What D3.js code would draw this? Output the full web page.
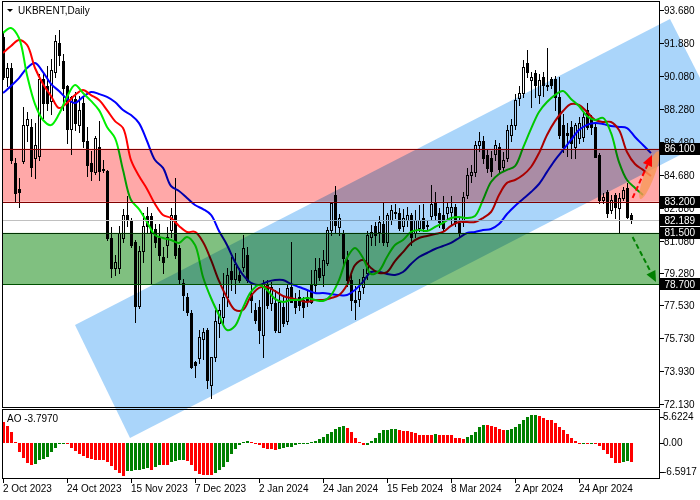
<!DOCTYPE html>
<html><head><meta charset="utf-8">
<script src="https://cdn.jsdelivr.net/npm/d3@7"></script>
<style>
html,body{margin:0;padding:0;background:#fff;}
svg{display:block;font-family:"Liberation Sans",Arial,sans-serif;}
.mul{mix-blend-mode:multiply;}
</style></head><body>
<svg id="chart" width="700" height="500"></svg>
<script>
// ---------------- DATA ----------------
const symbolTitle = "UKBRENT,Daily";
const aoTitle = "AO -3.7970";

const openP = [92.2,90.0,90.5,85.3,83.9,85.4,87.4,87.3,85.6,85.7,
89.9,89.5,88.7,90.3,91.9,90.9,89.5,87.2,88.8,87.4,
88.6,86.5,85.3,84.8,86.2,85.0,84.9,81.2,79.6,79.6,
81.2,82.5,82.2,81.0,77.5,80.5,82.4,82.4,81.7,81.2,
80.2,80.85,81.66,82.48,80.66,78.74,78.0,77.1,74.46,74.64,
75.7,76.2,73.2,74.7,76.6,76.9,78.0,79.4,79.0,79.2,
79.65,80.29,78.2,77.28,77.47,75.92,78.65,77.65,77.65,76.1,
77.47,76.7,78.56,77.83,78.0,77.83,78.0,78.65,78.65,79.56,
79.2,79.84,81.66,83.57,81.84,81.48,80.0,78.92,77.83,77.9,
78.56,79.3,81.29,81.85,81.57,82.0,81.0,82.2,82.6,82.57,
81.85,82.2,82.48,81.5,81.75,82.3,81.85,82.4,83.2,82.57,
82.48,82.57,82.66,82.9,82.02,82.11,83.57,84.66,84.85,86.3,
86.5,85.76,85.6,85.8,86.2,85.1,85.6,86.85,87.4,88.85,
89.13,90.77,89.85,90.22,89.04,90.0,89.58,89.9,89.89,88.94,
87.4,86.94,87.3,86.2,86.67,86.76,88.2,87.76,87.3,85.75,
83.3,83.75,82.75,83.57,82.84,83.39,83.93,82.48];

const highP = [92.5,90.8,90.8,85.6,84.5,88.4,88.1,87.7,87.5,90.2,
90.2,90.6,91.0,92.3,92.6,91.3,89.6,89.0,89.2,89.0,
89.0,87.3,86.0,86.8,87.6,85.5,84.95,81.8,80.3,81.9,
82.8,83.5,82.3,81.1,80.8,82.6,82.9,82.6,82.0,82.0,
80.7,81.8,82.84,84.48,80.84,79.0,78.2,77.3,74.5,76.2,
76.3,76.3,74.7,77.3,77.6,79.3,79.6,80.2,80.4,79.6,
81.4,80.75,78.7,77.65,77.83,78.92,78.92,78.8,78.38,78.47,
78.0,78.7,81.0,78.2,78.38,78.0,78.3,79.47,80.1,80.1,
80.56,81.84,83.2,84.06,82.55,81.66,80.5,79.2,78.6,79.0,
79.5,81.6,81.95,82.1,82.4,83.2,82.6,83.0,83.1,82.85,
82.8,82.9,82.57,82.75,83.0,83.1,82.2,84.1,83.75,82.85,
83.5,83.2,83.5,83.1,82.3,83.75,85.05,85.2,86.5,87.0,
86.8,86.1,86.0,86.6,86.4,85.9,87.4,87.7,89.1,89.5,
90.95,91.49,90.3,90.4,90.2,90.3,91.58,90.0,90.1,90.0,
88.0,87.5,87.6,87.5,87.85,88.1,88.6,87.95,87.5,85.84,
83.66,83.84,83.57,83.66,83.66,84.0,84.2,82.57];

const lowP = [89.9,89.5,85.3,83.2,82.9,85.3,86.5,84.6,84.5,85.5,
87.8,88.2,88.0,90.0,90.7,88.2,86.4,85.8,87.1,87.0,
86.2,84.6,84.4,84.7,84.4,84.8,81.1,79.1,79.2,79.3,
81.0,81.9,80.7,76.65,77.4,79.9,81.5,78.7,80.7,80.0,
79.3,80.2,81.3,80.1,78.7,77.3,77.0,74.1,73.6,74.4,
74.6,73.0,72.46,74.5,75.8,76.6,77.5,78.4,78.2,78.8,
79.4,78.8,77.2,76.55,75.46,74.74,77.4,77.3,76.1,76.1,
76.4,76.5,77.7,77.1,77.3,76.9,77.5,77.65,78.3,78.9,
78.6,79.75,81.4,81.5,81.4,79.65,78.6,77.3,76.8,77.5,
78.2,79.0,80.85,80.85,81.0,80.85,80.8,82.0,82.3,81.65,
81.6,81.9,80.85,81.3,81.6,81.6,81.65,82.2,82.2,81.8,
81.6,82.2,82.0,81.9,81.3,81.9,83.4,84.3,84.6,86.0,
85.3,84.85,84.6,85.5,84.8,84.9,85.4,86.5,87.2,88.5,
88.9,90.0,88.4,88.9,88.6,89.0,89.3,89.4,88.2,86.7,
85.9,85.7,85.6,85.6,86.4,86.5,87.2,86.9,85.66,83.11,
83.11,82.38,82.57,82.29,81.47,83.3,82.3,82.02];

const closeP = [90.0,90.5,85.5,83.7,83.75,87.4,87.7,85.1,86.3,89.9,
88.6,88.6,90.4,92.0,91.2,89.4,87.2,88.9,87.5,88.2,
86.5,85.2,84.9,86.7,84.9,84.95,81.2,79.6,79.9,81.5,
82.5,82.2,80.85,77.5,80.5,81.9,81.9,81.5,81.0,80.3,
79.9,81.3,82.5,80.29,79.0,78.1,77.2,74.15,74.28,75.8,
76.1,73.46,74.7,76.7,77.3,78.0,79.2,79.0,79.8,78.9,
80.65,78.92,77.83,76.74,76.19,78.74,77.56,78.56,76.19,77.74,
76.56,78.5,77.74,77.47,77.56,77.47,77.83,77.74,79.47,79.1,
80.0,81.66,83.11,81.93,82.29,80.11,78.9,77.83,77.74,78.3,
79.1,81.4,81.57,81.4,82.1,81.0,82.48,82.75,82.65,81.75,
82.3,82.48,81.29,82.2,82.2,81.75,81.95,83.1,82.5,82.1,
81.75,82.93,82.93,82.1,81.48,83.48,84.66,84.85,86.3,86.5,
85.6,85.03,84.9,86.3,85.0,85.5,87.1,87.4,88.76,89.13,
90.58,90.31,90.0,89.58,89.85,89.58,89.5,89.6,88.94,86.85,
86.21,86.85,86.4,87.4,87.49,87.85,87.3,87.3,85.66,83.3,
83.48,82.57,83.3,82.93,83.39,83.84,82.38,82.19];

// Alligator lines, one value every LINE_STEP bars (shifted forward as drawn)
const LINE_STEP = 2;
const lipsLine = [92.42,92.70,92.15,90.13,88.54,87.67,87.39,87.99,88.93,89.58,
89.14,88.71,88.21,87.29,86.68,84.94,83.30,82.80,82.09,81.38,
81.22,81.11,80.95,81.28,80.84,79.09,77.94,77.01,76.19,76.41,
77.41,78.27,78.65,78.38,77.89,77.72,77.83,77.83,77.94,77.83,
77.78,78.10,78.92,80.13,80.67,80.13,79.25,79.42,80.18,80.84,
81.11,81.55,81.66,81.60,81.82,82.04,82.31,82.37,82.31,82.42,
83.30,84.28,84.72,84.94,85.15,86.14,87.18,88.11,88.65,89.03,
89.25,88.82,88.43,87.89,87.67,87.78,86.96,85.37,84.39,83.95,
83.57];
const teethLine = [91.33,91.71,92.04,91.77,90.51,89.64,88.98,88.32,88.60,89.03,
89.31,89.03,88.76,88.21,87.61,87.23,85.48,84.61,83.90,83.08,
82.48,82.31,81.88,81.55,81.55,81.00,80.02,78.87,77.96,77.29,
77.29,78.05,78.49,78.54,78.32,78.05,77.94,77.83,77.72,77.83,
77.83,77.94,78.10,78.65,79.74,80.02,79.58,79.31,79.36,79.96,
80.45,80.95,81.22,81.33,81.44,81.55,81.88,82.09,82.09,82.09,
82.31,82.64,83.57,84.23,84.39,84.66,85.10,85.86,86.85,87.61,
88.16,88.54,88.49,88.11,87.67,87.56,87.56,87.12,85.92,85.26,
84.94,84.61];
const jawLine = [89.14,89.53,89.96,90.51,90.78,90.29,89.64,89.25,88.82,88.60,
88.93,89.20,89.09,88.93,88.65,88.21,87.94,87.50,86.52,85.48,
85.05,84.06,83.79,83.41,83.02,82.80,82.48,81.60,80.84,79.91,
79.20,78.76,78.65,78.82,78.92,78.92,78.71,78.54,78.38,78.21,
78.21,78.16,78.10,78.10,78.38,78.82,79.36,79.36,79.25,79.20,
79.36,79.80,80.18,80.40,80.62,80.78,80.95,81.22,81.49,81.55,
81.66,81.71,81.98,82.53,82.97,83.35,83.73,84.17,84.83,85.48,
86.03,86.58,87.12,87.40,87.50,87.45,87.34,87.29,87.23,86.74,
86.30,85.86];

// Awesome Oscillator values per bar
const aoVals = [4.2,3.5,2.24,0.2,-1.94,-3.04,-4.0,-4.39,-4.2,-3.55,
-3.23,-2.78,-1.94,-0.97,-0.19,-0.13,-0.32,-0.97,-1.62,-2.26,
-2.58,-3.04,-3.23,-3.42,-3.49,-3.55,-3.88,-4.72,-5.49,-6.13,
-6.5917,-5.75,-5.6,-5.5,-5.4,-5.3,-5.15,-5.45,-4.95,-4.4,
-4.5,-4.55,-3.9,-3.7,-3.5,-3.45,-3.7,-4.5,-5.6,-6.2,
-6.45,-6.55,-6.58,-6.0,-5.5,-4.9,-3.9,-2.3,-1.3,-0.5,
0.15,0.35,0.15,-0.1,-0.5,-1.0,-1.3,-1.32,-1.35,-1.3,
-1.0,-0.9,-0.8,-0.5,-0.25,-0.2,0.05,0.12,0.4,0.7,
1.2,1.75,2.15,2.8,3.3,3.5,3.0,2.1,1.05,0.2,
-0.5,-0.38,0.35,1.05,1.9,2.6,2.62,2.73,2.87,2.6,
2.45,2.38,2.24,1.9,1.68,1.61,1.54,1.52,1.75,1.68,
1.66,1.61,1.54,1.05,0.91,0.84,1.19,1.54,2.24,3.29,
3.64,3.62,3.5,3.29,2.87,2.59,2.62,2.8,3.15,3.71,
4.55,5.25,5.6,5.6224,5.39,5.11,4.69,4.55,3.99,3.29,
2.59,1.75,0.91,0.35,-0.13,-0.1,-0.14,0.07,-0.15,-0.63,
-1.45,-2.33,-3.15,-3.97,-4.1,-3.9,-3.75,-3.797];
const aoMax = 5.6224, aoMin = -6.5917;
const aoTickLabels = ["5.6224","0.00","-6.5917"];
const aoTickVals = [5.6224, 0, -6.5917];

// Axis ticks
const priceTickVals = [93.68,91.88,90.08,88.28,86.48,84.68,82.88,81.08,79.28,77.53,75.73,73.93,72.13];
const dateTickIdx = [0,16,32,48,64,80,96,112,128,144];
const dateTickLabels = ["2 Oct 2023","24 Oct 2023","15 Nov 2023","7 Dec 2023","2 Jan 2024",
  "24 Jan 2024","15 Feb 2024","8 Mar 2024","2 Apr 2024","24 Apr 2024"];

// Zones / levels
const resistanceZone = [86.1, 83.2];
const supportZone = [81.5, 78.7];
const lastPrice = 82.189;
const priceBoxes = [86.1, 83.2, 82.189, 81.5, 78.7];

// Rising channel corners (bar index, price)
const channelIdx = [18, 166.75, 181, 31.75];
const channelPrice = [76.47, 93.19, 87.07, 70.29];

// Forecast arrows (bar index, price) and highlight ellipse
const upArrowIdx = [157.4, 162.25], upArrowPrice = [83.41, 85.76];
const downArrowIdx = [157.4, 163.25], downArrowPrice = [81.27, 78.81];
const ellipseIdx = [159.6, 163.6], ellipsePrice = [83.51, 85.81];

// ---------------- DRAW ----------------
const svg = d3.select("#chart");
const PL = 2.5, PR = 659.5, MT = 1.5, MB = 407.5, AT = 409.5, AB = 478.5;
const x = d3.scaleLinear().domain([0,164]).range([3,659]);
const y = d3.scaleLinear().domain([72.13,93.68]).range([404.3,10]);
const aoY = d3.scaleLinear().domain([aoMin, aoMax]).range([475.5,415]);

svg.append("rect").attr("width",700).attr("height",500).attr("fill","#fff");
const defs = svg.append("defs");
defs.append("clipPath").attr("id","clipMain").append("rect")
  .attr("x",PL).attr("y",MT).attr("width",PR-PL).attr("height",MB-MT);
defs.append("clipPath").attr("id","clipAO").append("rect")
  .attr("x",PL).attr("y",AT).attr("width",PR-PL).attr("height",AB-AT);

// candles
const cg = svg.append("g").attr("clip-path","url(#clipMain)").attr("shape-rendering","crispEdges");
closeP.forEach((c,i)=>{
  const o = openP[i], h = highP[i], l = lowP[i];
  const xc = Math.round(x(i));
  cg.append("line").attr("x1",xc+0.5).attr("x2",xc+0.5)
    .attr("y1",Math.round(y(h))).attr("y2",Math.round(y(l))+1)
    .attr("stroke","#000").attr("stroke-width",1);
  let top = Math.round(y(Math.max(o,c))), bot = Math.round(y(Math.min(o,c)));
  if (bot - top < 1) bot = top + 1;
  if (c >= o) {
    cg.append("rect").attr("x",xc-0.5).attr("y",top+0.5).attr("width",2).attr("height",bot-top)
      .attr("fill","#fff").attr("stroke","#000").attr("stroke-width",1);
  } else {
    cg.append("rect").attr("x",xc-1).attr("y",top).attr("width",3).attr("height",bot-top+1)
      .attr("fill","#000");
  }
});

// alligator lines
const lg = svg.append("g").attr("clip-path","url(#clipMain)");
const lineGen = d3.line().x((d,k)=>x(k*LINE_STEP)).y(d=>y(d)).curve(d3.curveCatmullRom.alpha(0.5));
[[jawLine,"#0000ff"],[teethLine,"#ff0000"],[lipsLine,"#00f000"]].forEach(([arr,col])=>{
  lg.append("path").attr("d",lineGen(arr)).attr("fill","none").attr("stroke",col).attr("stroke-width",2);
});

// current price line
svg.append("line").attr("x1",PL).attr("x2",PR).attr("y1",Math.round(y(lastPrice))+0.5).attr("y2",Math.round(y(lastPrice))+0.5)
  .attr("stroke","#c0c0c0").attr("stroke-width",1).attr("shape-rendering","crispEdges");

// AO bars
const ag = svg.append("g").attr("clip-path","url(#clipAO)").attr("shape-rendering","crispEdges");
aoVals.forEach((v,i)=>{
  const xc = Math.round(x(i));
  const col = (i>0 && v > aoVals[i-1]) ? "#008000" : "#ff0000";
  const y0 = aoY(0), y1 = aoY(v);
  ag.append("rect").attr("x",xc-1).attr("width",3)
    .attr("y",Math.min(y0,y1)).attr("height",Math.max(1,Math.abs(y1-y0))).attr("fill",col);
});

// price axis
const axg = svg.append("g").attr("font-size","10px").attr("fill","#000");
priceTickVals.forEach(v=>{
  const yy = Math.round(y(v))+0.5;
  axg.append("line").attr("x1",PR).attr("x2",PR+4).attr("y1",yy).attr("y2",yy).attr("stroke","#000").attr("shape-rendering","crispEdges");
  axg.append("text").attr("x",664).attr("y",yy).attr("dy","0.35em").text(v.toFixed(3));
});
aoTickVals.forEach((v,k)=>{
  const yy = Math.max(AT+7, Math.min(AB-7, aoY(v)));
  axg.append("line").attr("x1",PR).attr("x2",PR+4).attr("y1",Math.round(yy)+0.5).attr("y2",Math.round(yy)+0.5).attr("stroke","#000").attr("shape-rendering","crispEdges");
  axg.append("text").attr("x",663).attr("y",yy).attr("dy","0.35em").text(aoTickLabels[k]);
});
// date axis
dateTickIdx.forEach((d,k)=>{
  const xx = Math.round(x(d))+0.5;
  axg.append("line").attr("x1",xx).attr("x2",xx).attr("y1",AB).attr("y2",AB+4).attr("stroke","#000").attr("shape-rendering","crispEdges");
  axg.append("text").attr("x",xx-0.5).attr("y",492).text(dateTickLabels[k]);
});

// overlays (multiply blended)
const ov = svg.append("g");
const chPts = channelIdx.map((d,k)=>[x(d), y(channelPrice[k])]);
ov.append("polygon").attr("class","mul").attr("points",chPts.map(p=>p.join(",")).join(" ")).attr("fill","#aad5fa");
ov.append("rect").attr("class","mul").attr("x",PL).attr("width",PR-PL)
  .attr("y",y(resistanceZone[0])).attr("height",y(resistanceZone[1])-y(resistanceZone[0])).attr("fill","#ffa8a8");
ov.append("rect").attr("class","mul").attr("x",PL).attr("width",PR-PL)
  .attr("y",y(supportZone[0])).attr("height",y(supportZone[1])-y(supportZone[0])).attr("fill","#80c080");
[[resistanceZone[0],"#800000"],[resistanceZone[1],"#800000"],[supportZone[0],"#003300"],[supportZone[1],"#005000"]].forEach(([v,col])=>{
  const yy = Math.round(y(v))+0.5;
  ov.append("line").attr("x1",PL).attr("x2",PR).attr("y1",yy).attr("y2",yy).attr("stroke",col).attr("shape-rendering","crispEdges");
});

// highlight ellipse
{
  const ax1 = x(ellipseIdx[0]), ay1 = y(ellipsePrice[0]), ax2 = x(ellipseIdx[1]), ay2 = y(ellipsePrice[1]);
  const cx = (ax1+ax2)/2, cy = (ay1+ay2)/2;
  const len = Math.hypot(ax2-ax1, ay2-ay1);
  const ang = Math.atan2(ay2-ay1, ax2-ax1)*180/Math.PI;
  svg.append("ellipse").attr("cx",cx).attr("cy",cy).attr("rx",len/2+3).attr("ry",5)
    .attr("transform",`rotate(${ang},${cx},${cy})`).attr("fill","#f89858").attr("opacity",0.8);
}

// arrows
function arrow(ix, pr, col){
  const x1 = x(ix[0]), y1 = y(pr[0]), x2 = x(ix[1]), y2 = y(pr[1]);
  const dx = x2-x1, dy = y2-y1, L = Math.hypot(dx,dy), ux = dx/L, uy = dy/L;
  const hl = 11, hw = 5;
  const bx = x2-ux*hl, by = y2-uy*hl;
  svg.append("line").attr("x1",x1).attr("y1",y1).attr("x2",bx).attr("y2",by)
    .attr("stroke",col).attr("stroke-width",2).attr("stroke-dasharray","5,3");
  svg.append("path").attr("d",`M${x2},${y2}L${bx-uy*hw},${by+ux*hw}L${bx+uy*hw},${by-ux*hw}Z`).attr("fill",col);
}
arrow(upArrowIdx, upArrowPrice, "#ff0000");
arrow(downArrowIdx, downArrowPrice, "#008000");

// price boxes
priceBoxes.forEach(v=>{
  const yy = y(v);
  svg.append("rect").attr("x",660).attr("y",Math.round(yy)-6).attr("width",40).attr("height",12).attr("fill","#000");
  svg.append("text").attr("x",664.5).attr("y",yy).attr("dy","0.35em").attr("font-size","10px").attr("fill","#fff").text(v.toFixed(3));
});

// frames
const fr = svg.append("g").attr("fill","none").attr("stroke","#000").attr("shape-rendering","crispEdges");
fr.append("rect").attr("x",PL).attr("y",MT).attr("width",PR-PL).attr("height",MB-MT);
fr.append("rect").attr("x",PL).attr("y",AT).attr("width",PR-PL).attr("height",AB-AT);

// titles
svg.append("path").attr("d","M7,9L13,9L10,12Z").attr("fill","#000");
svg.append("text").attr("x",18).attr("y",14).attr("font-size","10px").attr("fill","#000").text(symbolTitle);
svg.append("text").attr("x",7).attr("y",422).attr("font-size","10px").attr("fill","#000").text(aoTitle);
</script>
</body></html>
